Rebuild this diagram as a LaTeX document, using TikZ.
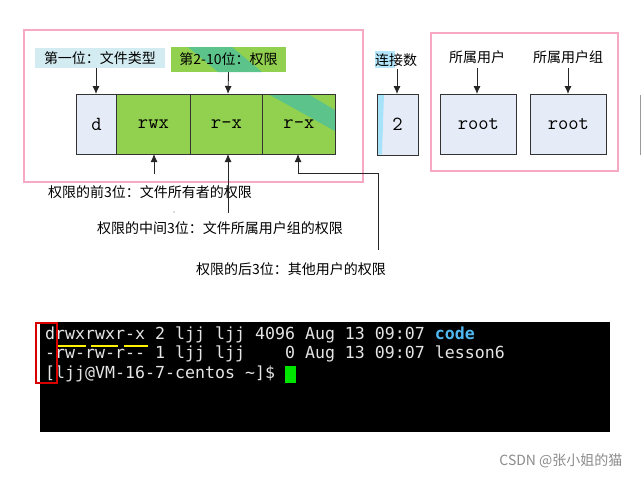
\documentclass[tikz,border=0pt]{standalone}
\usepackage{fontspec}
\usetikzlibrary{arrows.meta}
\newfontfamily\cjk{Noto Sans CJK SC}
\newfontfamily\mono{DejaVu Sans Mono}
\begin{document}
\begin{tikzpicture}[x=1pt,y=-1pt,
  cell/.style={draw=black!80,line width=0.8pt,minimum height=60pt,anchor=north west,inner sep=0pt,font=\ttfamily\fontsize{20}{20}\selectfont},
  lbl/.style={font=\cjk\fontsize{14}{14}\selectfont,inner sep=2pt},
  arr/.style={-{Latex[length=8pt,width=7pt]},line width=0.9pt,black!85},
  pinkbox/.style={line width=2pt},
  term/.style={font=\mono\fontsize{16.6}{16}\selectfont,anchor=west,inner sep=0pt,text=white!90!black}]
\useasboundingbox (0,0) rectangle (641,480);
\fill[white] (0,0) rectangle (641,480);
\definecolor{cellblue}{HTML}{E6ECF7}
\definecolor{cellgreen}{HTML}{92D050}
\definecolor{lblblue}{HTML}{D3ECF2}
\definecolor{teal}{HTML}{5CC48A}
\definecolor{pinkline}{RGB}{247,168,196}
% pink frames
\draw[pinkbox,draw=pinkline] (24,30) rectangle (363,182);
\draw[pinkbox,draw=pinkline] (431,33) rectangle (618,171);
% labels
\node[lbl,fill=lblblue,minimum width=130pt,minimum height=20pt] (l1) at (100,58) {第一位：文件类型};
\fill[cellgreen] (171,47) rectangle (286,72);
\fill[teal] (188,47) -- (232,47) -- (262,72) -- (218,72) -- cycle;
\node[lbl,minimum width=115pt,minimum height=25pt] (l2) at (228.5,59.5) {第2-10位：权限};
% cells
\node[cell,fill=cellblue,minimum width=40pt] (d) at (76,94) {d};
\node[cell,fill=cellgreen,minimum width=74pt] (c1) at (116,94) {rwx};
\node[cell,fill=cellgreen,minimum width=72pt] (c2) at (190,94) {r-x};
\fill[cellgreen] (262,94) rectangle (335,154);
\fill[teal] (268,94) -- (308,94) -- (335,110) -- (335,131) -- cycle;
\node[cell,minimum width=73pt] (c3) at (262,94) {r-x};
\draw[arr] (96,68) -- (96,94);
\draw[arr] (l2.south) -- (228,94);
% bottom labels
\node[lbl,anchor=west] (b1) at (46,192) {权限的前3位：文件所有者的权限};
\node[lbl,anchor=west] (b2) at (95,228) {权限的中间3位：文件所属用户组的权限};
\node[lbl,anchor=west] (b3) at (194,269) {权限的后3位：其他用户的权限};
\fill[black!60] (174,212) circle (0.6);
\coordinate (u1) at (154,174);
\coordinate (u2) at (228,213);
\coordinate (u3) at (378,250);
\draw[arr] (u1) -- (154,154);
\draw[arr] (u2) -- (228,154);
\draw[arr] (u3) -- (378,173) -- (298,173) -- (298,154);
% link count
\fill[cyan!30] (375,51) rectangle (395,68);
\node[lbl] (lk) at (396,60) {连接数};
\node[cell,fill=cellblue,minimum width=41pt,minimum height=61pt] (two) at (377,94) {};
\fill[cyan!35] (377.4,94.4) -- (384,94.4) -- (382,154.6) -- (377.4,154.6) -- cycle;
\draw[black!80,line width=0.8pt] (377,94) rectangle (418,155);
\node[font=\ttfamily\fontsize{20}{20}\selectfont] (twot) at (397.5,124.5) {2};
\draw[arr] (397,69) -- (397,94);
% owners
\node[lbl] (ou) at (477,57) {所属用户};
\node[lbl] (og) at (568,57) {所属用户组};
\node[cell,fill=cellblue,minimum width=76pt] (r1) at (440,94) {root};
\node[cell,fill=cellblue,minimum width=76pt] (r2) at (530,94) {root};
\draw[arr] (477,68) -- (477,94);
\draw[arr] (568,68) -- (568,94);
\draw[black!40,line width=1pt] (640.5,95) -- (640.5,155);
% terminal
\fill[black] (40,322) rectangle (610,432);
\node[term] (t1) at (45,335) {drwxrwxr-x 2 ljj ljj 4096 Aug 13 09:07 \textbf{\textcolor[HTML]{4FB8F0}{code}}};
\node[term] (t2) at (45,354) {-rw-rw-r-- 1 ljj ljj \phantom{000}0 Aug 13 09:07 lesson6};
\node[term] (t3) at (45,374) {[ljj@VM-16-7-centos \textasciitilde]\$};
\fill[green!90!black] (285,366) rectangle (296,383);
\foreach \a/\b in {57/86,91/118,124/148} \draw[yellow,line width=2pt] (\a,346) -- (\b,346);
\draw[red!85!black,line width=2pt] (36,323) rectangle (57,383);
% watermark
\node[font=\cjk\fontsize{14}{14}\selectfont,text=black!45,anchor=east] (wm) at (626,461) {CSDN @张小姐的猫};
\end{tikzpicture}
\end{document}
